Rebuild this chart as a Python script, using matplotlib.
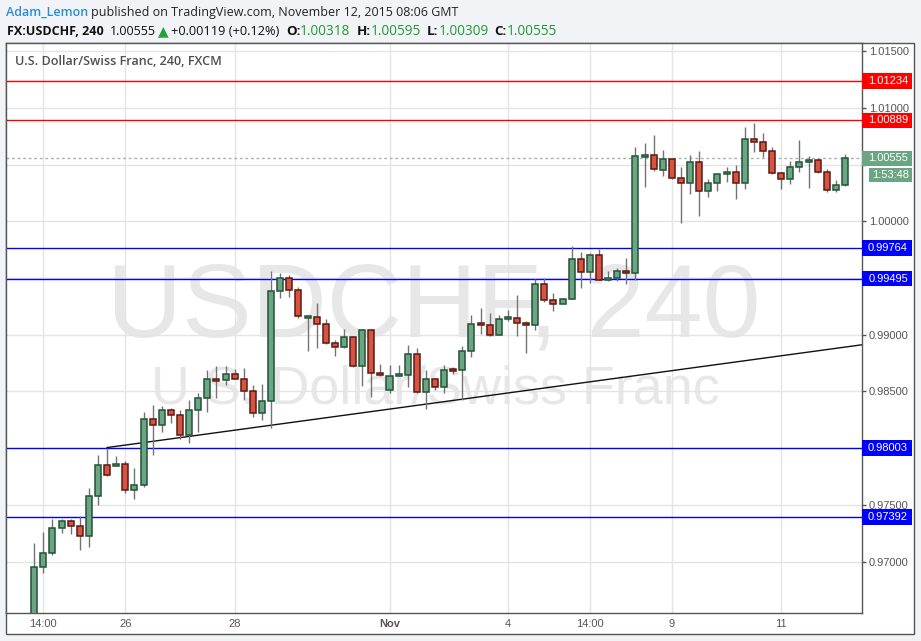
import matplotlib
matplotlib.use('Agg')
import matplotlib.pyplot as plt
from matplotlib.patches import Rectangle
import matplotlib.transforms as mtrans

# ---------------- data (4h candles, FX:USDCHF) ----------------
opens = [0.96500, 0.96951, 0.97074, 0.97295, 0.97356, 0.97312, 0.97224, 0.97577, 0.97851, 0.97848,
         0.97859, 0.97630, 0.97674, 0.98257, 0.98204, 0.98336, 0.98292, 0.98115, 0.98336, 0.98442,
         0.98605, 0.98597, 0.98656, 0.98612, 0.98500, 0.98312, 0.98418, 0.99387, 0.99502, 0.99397,
         0.99155, 0.99160, 0.99092, 0.98924, 0.98889, 0.98977, 0.98727, 0.99045, 0.98661, 0.98512,
         0.98638, 0.98643, 0.98832, 0.98493, 0.98611, 0.98537, 0.98695, 0.98691, 0.98859, 0.99095,
         0.99088, 0.98997, 0.99142, 0.99150, 0.99106, 0.99088, 0.99450, 0.99309, 0.99274, 0.99318,
         0.99671, 0.99553, 0.99706, 0.99486, 0.99500, 0.99562, 0.99544, 1.00574, 1.00580, 1.00452,
         1.00550, 1.00382, 1.00338, 1.00521, 1.00268, 1.00338, 1.00417, 1.00435, 1.00338, 1.00726,
         1.00700, 1.00620, 1.00426, 1.00373, 1.00479, 1.00523, 1.00541, 1.00435, 1.00276, 1.00318]
highs = [0.97168, 0.97265, 0.97377, 0.97377, 0.97375, 0.97403, 0.97653, 0.97941, 0.98006, 0.97933,
         0.97888, 0.97827, 0.98321, 0.98383, 0.98374, 0.98356, 0.98339, 0.98427, 0.98486, 0.98686,
         0.98725, 0.98722, 0.98701, 0.98707, 0.98554, 0.98566, 0.99563, 0.99545, 0.99527, 0.99420,
         0.99178, 0.99276, 0.99142, 0.98956, 0.99050, 0.98985, 0.99050, 0.99054, 0.98740, 0.98730,
         0.98730, 0.98906, 0.98883, 0.98686, 0.98615, 0.98730, 0.98720, 0.98897, 0.99178, 0.99238,
         0.99196, 0.99174, 0.99215, 0.99350, 0.99121, 0.99488, 0.99503, 0.99366, 0.99322, 0.99785,
         0.99733, 0.99724, 0.99759, 0.99565, 0.99589, 0.99677, 1.00656, 1.00692, 1.00762, 1.00625,
         1.00552, 1.00480, 1.00580, 1.00621, 1.00370, 1.00420, 1.00479, 1.00496, 1.00832, 1.00868,
         1.00780, 1.00657, 1.00430, 1.00532, 1.00717, 1.00576, 1.00545, 1.00462, 1.00364, 1.00595]
lows = [0.96460, 0.96898, 0.97060, 0.97256, 0.97247, 0.97106, 0.97127, 0.97500, 0.97755, 0.97844,
        0.97609, 0.97553, 0.97657, 0.97944, 0.98147, 0.98226, 0.98085, 0.98050, 0.98147, 0.98318,
        0.98443, 0.98560, 0.98610, 0.98421, 0.98271, 0.98250, 0.98180, 0.99323, 0.99332, 0.99150,
        0.98853, 0.98882, 0.98920, 0.98810, 0.98885, 0.98720, 0.98546, 0.98451, 0.98634, 0.98484,
        0.98636, 0.98536, 0.98490, 0.98350, 0.98514, 0.98484, 0.98650, 0.98424, 0.98800, 0.99003,
        0.98990, 0.98995, 0.99121, 0.98987, 0.98836, 0.99044, 0.99291, 0.99212, 0.99268, 0.99316,
        0.99412, 0.99453, 0.99480, 0.99474, 0.99474, 0.99443, 0.99486, 1.00300, 1.00441, 1.00403,
        1.00373, 0.99985, 1.00236, 1.00044, 1.00212, 1.00267, 1.00350, 1.00197, 1.00288, 1.00610,
        1.00567, 1.00414, 1.00288, 1.00326, 1.00435, 1.00297, 1.00429, 1.00258, 1.00258, 1.00309]
closes = [0.96951, 0.97074, 0.97295, 0.97356, 0.97312, 0.97224, 0.97577, 0.97851, 0.97762, 0.97856,
          0.97630, 0.97674, 0.98257, 0.98204, 0.98336, 0.98292, 0.98115, 0.98336, 0.98442, 0.98610,
          0.98595, 0.98656, 0.98612, 0.98500, 0.98312, 0.98418, 0.99387, 0.99502, 0.99397, 0.99161,
          0.99162, 0.99092, 0.98924, 0.98889, 0.98977, 0.98727, 0.99045, 0.98661, 0.98653, 0.98635,
          0.98646, 0.98832, 0.98493, 0.98611, 0.98537, 0.98691, 0.98688, 0.98859, 0.99097, 0.99088,
          0.98997, 0.99142, 0.99150, 0.99106, 0.99088, 0.99450, 0.99309, 0.99274, 0.99318, 0.99671,
          0.99553, 0.99706, 0.99486, 0.99500, 0.99562, 0.99544, 1.00574, 1.00580, 1.00462, 1.00550,
          1.00382, 1.00338, 1.00521, 1.00268, 1.00338, 1.00417, 1.00438, 1.00338, 1.00726, 1.00700,
          1.00620, 1.00426, 1.00373, 1.00479, 1.00523, 1.00541, 1.00435, 1.00276, 1.00320, 1.00555]

time_tick_idx = [1, 10, 22, 39, 52, 61, 70, 82]
time_tick_labels = ['14:00', '26', '28', 'Nov', '4', '14:00', '9', '11']
price_ticks = [0.970, 0.975, 0.980, 0.985, 0.990, 0.995, 1.000, 1.005, 1.010, 1.015]
level_values = [1.01234, 1.00889, 0.99764, 0.99495, 0.98003, 0.97392]
level_kinds = ['r', 'r', 'b', 'b', 'b', 'b']
trend_x = [8, 90.9]
trend_y = [0.98006, 0.98912]
last_price = 1.00555
countdown = '1:53:48'

# ---------------- figure ----------------
W, H = 921, 641
fig = plt.figure(figsize=(W / 100, H / 100), dpi=100)
fig.patch.set_facecolor('#f1f3f6')


def fx(x):
    return x / W


def fy(y):
    return 1 - y / H


GRAY = '#555555'
frame = Rectangle((fx(6), fy(634)), fx(914) - fx(6), fy(43) - fy(634),
                  transform=fig.transFigure, facecolor='white', edgecolor=GRAY, lw=1, zorder=-5)
fig.patches.append(frame)

ax = fig.add_axes([fx(6), fy(613), fx(862) - fx(6), fy(43) - fy(613)])
ax.set_zorder(1)
ax.set_xlim(-3.1, 90.87)
ax.set_ylim(0.96548, 1.01571)
ax.set_facecolor('white')
for s in ax.spines.values():
    s.set_color(GRAY)
    s.set_linewidth(1)
ax.set_axisbelow(True)

# grid + ticks
ax.set_yticks(price_ticks)
# 1.00500 sits under the last-price label in the reference, so it is not shown
ax.set_yticklabels(['' if abs(v - 1.005) < 1e-9 else f'{v:.5f}' for v in price_ticks])
ax.set_xticks(time_tick_idx)
ax.set_xticklabels(time_tick_labels)
ax.grid(True, color='#e4e4e4', lw=1)
ax.yaxis.tick_right()
ax.tick_params(axis='y', length=3, width=1, color=GRAY, pad=2, labelsize=8, labelcolor=GRAY)
ax.tick_params(axis='x', length=0, pad=4, labelsize=8, labelcolor=GRAY)
for lab in ax.get_yticklabels() + ax.get_xticklabels():
    lab.set_family(['Liberation Sans', 'DejaVu Sans'])
for lab, txt in zip(ax.get_xticklabels(), time_tick_labels):
    if txt == 'Nov':
        lab.set_fontweight('bold')

# watermark
ax.text(fx(434), fy(336), 'USDCHF, 240', transform=fig.transFigure, ha='center', va='baseline',
        fontsize=75, color='#e7e7e7', family=['Liberation Sans', 'DejaVu Sans'], zorder=0.2)
ax.text(fx(435), fy(404), 'U.S. Dollar/Swiss Franc', transform=fig.transFigure, ha='center',
        va='baseline', fontsize=38.8, color='#e7e7e7', family=['Liberation Sans', 'DejaVu Sans'], zorder=0.2)

# current price dotted line
ax.axhline(last_price, color='#a9b0b0', lw=1, ls=(0, (2, 2)), zorder=1)

# horizontal levels
blend = mtrans.blended_transform_factory(ax.transAxes, ax.transData)
ppx = (1.01571 - 0.96548) / 570.0  # price per pixel
box_w = 50 / 856.0
level_color_map = {'r': '#ff0000', 'b': '#0000ff'}
for v, k in zip(level_values, level_kinds):
    c = level_color_map[k]
    ax.axhline(v, color=c, lw=1, zorder=1.5)
    hh = 15.7 * ppx
    ax.add_patch(Rectangle((1.0, v - hh / 2), box_w, hh, transform=blend, clip_on=False,
                           facecolor=c, edgecolor='none', zorder=6))
    ax.text(1.0 + box_w / 2 + 1 / 856, v, f'{v:.5f}', transform=blend, ha='center', va='center',
            color='white', fontsize=8, family=['Liberation Sans', 'DejaVu Sans'], zorder=7, clip_on=False)

# last price label + countdown
hh = 15.5 * ppx
ax.add_patch(Rectangle((1.0, last_price - hh / 2), box_w, hh, transform=blend, clip_on=False,
                       facecolor='#6ba583', edgecolor='none', zorder=6))
ax.text(1.0 + box_w / 2 + 1 / 856, last_price, f'{last_price:.5f}', transform=blend, ha='center',
        va='center', color='white', fontsize=8, family=['Liberation Sans', 'DejaVu Sans'], zorder=7)
cd_top = last_price - hh / 2 - 2 * ppx
cd_h = 14 * ppx
ax.add_patch(Rectangle((1.0 + 7 / 856, cd_top - cd_h), 43 / 856, cd_h, transform=blend, clip_on=False,
                       facecolor='#6ba583', edgecolor='none', zorder=6))
ax.text(1.0 + 7 / 856 + 21.5 / 856, cd_top - cd_h / 2, countdown, transform=blend, ha='center',
        va='center', color='white', fontsize=8, family=['Liberation Sans', 'DejaVu Sans'], zorder=7)

# trend line
ax.plot(trend_x, trend_y, color='#111111', lw=1, zorder=1.6, clip_on=True)

# candles
GREEN, GREEN_E = '#6ba583', '#225437'
RED, RED_E = '#d75442', '#5b1a13'
bw = 0.66
min_h = 2.2 * ppx
for i, (o, h, l, c) in enumerate(zip(opens, highs, lows, closes)):
    up = c >= o
    ax.plot([i, i], [l, h], color='#737375', lw=1, zorder=3, solid_capstyle='butt')
    lo_b = min(o, c)
    hb = abs(c - o)
    if hb < min_h:
        lo_b = (o + c) / 2 - min_h / 2
        hb = min_h
    ax.add_patch(Rectangle((i - bw / 2, lo_b), bw, hb, facecolor=GREEN if up else RED,
                           edgecolor=GREEN_E if up else RED_E, lw=1.1, zorder=4))

# chart title inside pane
ax.text(fx(15), fy(65), 'U.S. Dollar/Swiss Franc, 240, FXCM', transform=fig.transFigure,
        ha='left', va='baseline', fontsize=9.1, fontweight='semibold', color='#4f4f4f',
        family=['Open Sans', 'DejaVu Sans'], zorder=8)

# header
renderer = fig.canvas.get_renderer()


def chain(x, y, parts):
    for s, kw in parts:
        if s == ' ':
            x += kw.get('gap', 4)
            continue
        t = fig.text(fx(x), fy(y), s, ha='left', va='baseline', **kw)
        x += t.get_window_extent(renderer).width
    return x


HF = ['Open Sans', 'DejaVu Sans']
chain(6, 16, [('Adam_Lemon', dict(fontsize=9, color='#2a8fd0', fontweight='semibold', family=HF)),
              (' ', dict(gap=3)),
              ('published on TradingView.com, November 12, 2015 08:06 GMT',
               dict(fontsize=9, color='#222222', family=HF))])
G2 = '#1f9a35'
chain(7, 35, [('FX:USDCHF, 240', dict(fontsize=9, color='#111111', fontweight='bold', family=HF)),
              (' ', dict(gap=6)),
              ('1.00555', dict(fontsize=9, color='#111111', family=HF)),
              (' ', dict(gap=2)),
              ('\u25b2', dict(fontsize=10, color='#22a03a', family=['DejaVu Sans'])),
              (' ', dict(gap=3)),
              ('+0.00119 (+0.12%)', dict(fontsize=9.2, color='#111111', family=HF)),
              (' ', dict(gap=6)),
              ('O:', dict(fontsize=9.6, color='#111111', fontweight='bold', family=HF)),
              ('1.00318', dict(fontsize=9.8, color=G2, family=HF)),
              (' ', dict(gap=6)),
              ('H:', dict(fontsize=9.6, color='#111111', fontweight='bold', family=HF)),
              ('1.00595', dict(fontsize=9.8, color=G2, family=HF)),
              (' ', dict(gap=6)),
              ('L:', dict(fontsize=9.6, color='#111111', fontweight='bold', family=HF)),
              ('1.00309', dict(fontsize=9.8, color=G2, family=HF)),
              (' ', dict(gap=6)),
              ('C:', dict(fontsize=9.6, color='#111111', fontweight='bold', family=HF)),
              ('1.00555', dict(fontsize=9.8, color=G2, family=HF))])

fig.savefig('out.png', dpi=100, facecolor=fig.get_facecolor())
